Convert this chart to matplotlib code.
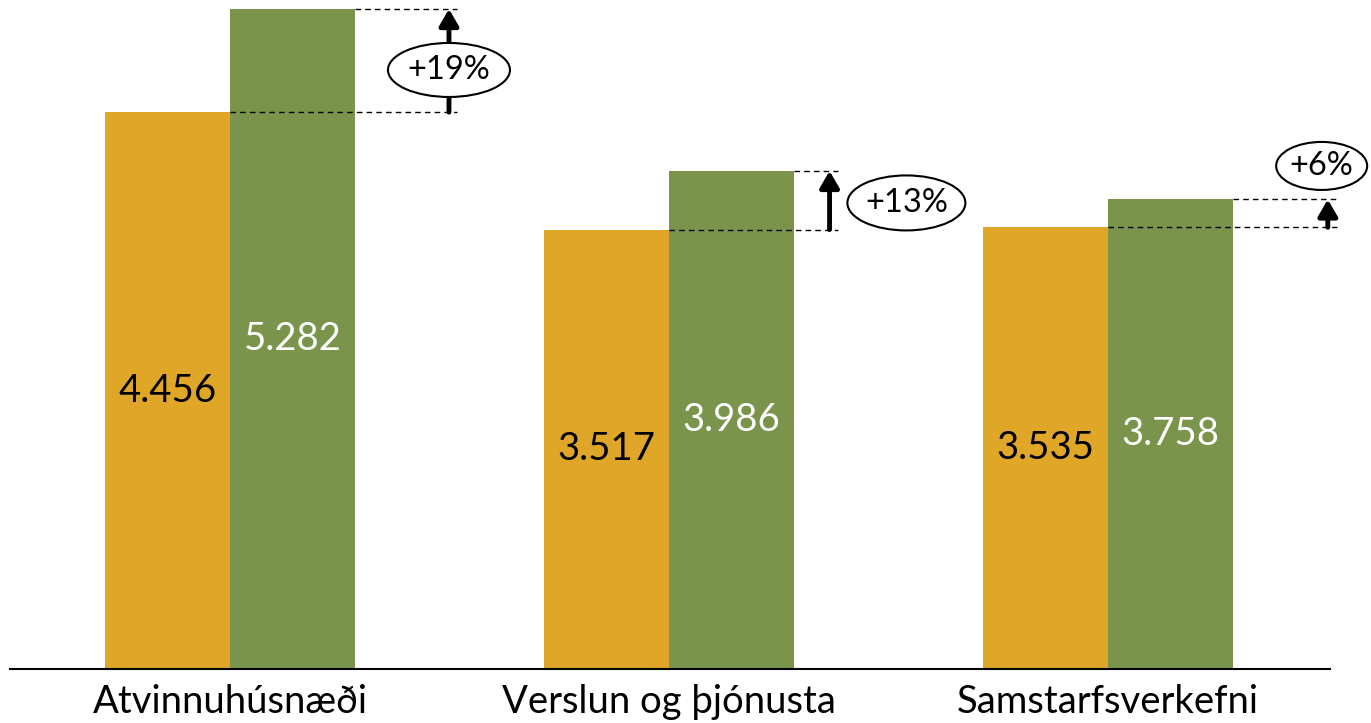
import matplotlib
matplotlib.use("Agg")
import matplotlib.pyplot as plt
from matplotlib.patches import Ellipse

plt.rcParams['font.family'] = ['Lato', 'DejaVu Sans']

categories = ["Atvinnuhúsnæði", "Verslun og þjónusta", "Samstarfsverkefni"]
before = [4.456, 3.517, 3.535]
after = [5.282, 3.986, 3.758]
before_labels = ["4.456", "3.517", "3.535"]
after_labels = ["5.282", "3.986", "3.758"]
changes = ["+19%", "+13%", "+6%"]

ORANGE = "#E0A628"
GREEN = "#7A954B"

fig = plt.figure(figsize=(13.71, 7.23), dpi=100)
ax = fig.add_axes([10/1371, 54/723, 1320/1371, 669/723])

bw = 0.285
xs = list(range(len(categories)))
ax.bar([x - bw/2 for x in xs], before, width=bw, color=ORANGE, zorder=2)
ax.bar([x + bw/2 for x in xs], after, width=bw, color=GREEN, zorder=2)

for x, b, a, bl, al in zip(xs, before, after, before_labels, after_labels):
    ax.text(x - bw/2, b/2, bl, ha='center', va='center', fontsize=27.5,
            color='black', zorder=4)
    ax.text(x + bw/2, a/2, al, ha='center', va='center', fontsize=27.5,
            color='white', zorder=4)

# annotation layout (offsets relative to group centre)
dash_end = [0.517, 0.386, 0.522]
arrow_x = [0.499, 0.366, 0.501]
ell_x = [0.499, 0.541, 0.487]
ell_y = [4.794, 3.73, 4.026]
ell_w = [122/439, 118/439, 91/439]
ell_h = [54/124.95, 55/124.95, 48/124.95]

for i, x in enumerate(xs):
    b, a = before[i], after[i]
    ax.plot([x, x + dash_end[i]], [b, b], color='black', lw=1,
            ls=(0, (4, 3)), zorder=3, clip_on=False)
    ax.plot([x + bw, x + dash_end[i]], [a, a], color='black', lw=1,
            ls=(0, (4, 3)), zorder=3, clip_on=False)
    ax.annotate("", xy=(x + arrow_x[i], a), xytext=(x + arrow_x[i], b),
                arrowprops=dict(arrowstyle='-|>,head_width=0.29,head_length=0.5',
                                lw=3.5, color='black', shrinkA=0, shrinkB=0,
                                mutation_scale=20),
                zorder=3, annotation_clip=False)
    e = Ellipse((x + ell_x[i], ell_y[i]), ell_w[i], ell_h[i], facecolor='white',
                edgecolor='black', lw=1.5, zorder=5, clip_on=False)
    ax.add_patch(e)
    ax.text(x + ell_x[i], ell_y[i], changes[i], ha='center', va='center',
            fontsize=23.5, zorder=6)

ax.set_xlim(-0.501, 2.506)
ax.set_ylim(0, 5.354)
for s in ['top', 'right', 'left']:
    ax.spines[s].set_visible(False)
ax.spines['bottom'].set_linewidth(1.5)
ax.set_yticks([])
ax.set_xticks(xs)
ax.set_xticklabels(categories, fontsize=27.5)
ax.tick_params(axis='x', length=0, pad=11)

fig.savefig("out.png", dpi=100)
